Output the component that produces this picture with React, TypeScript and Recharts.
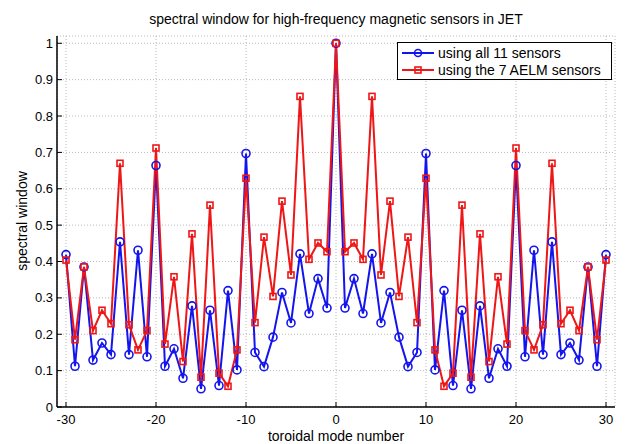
import { LineChart, Line, XAxis, YAxis, CartesianGrid, Legend } from 'recharts';

const modes = [
  -30, -29, -28, -27, -26, -25, -24, -23, -22, -21, -20, -19, -18, -17, -16, -15,
  -14, -13, -12, -11, -10, -9, -8, -7, -6, -5, -4, -3, -2, -1, 0,
  1, 2, 3, 4, 5, 6, 7, 8, 9, 10, 11, 12, 13, 14, 15,
  16, 17, 18, 19, 20, 21, 22, 23, 24, 25, 26, 27, 28, 29, 30,
];

const allSensors = [
  0.419, 0.112, 0.385, 0.129, 0.176, 0.144, 0.454, 0.144, 0.431, 0.138, 0.664, 0.112, 0.16, 0.079, 0.278, 0.05,
  0.266, 0.059, 0.32, 0.102, 0.697, 0.15, 0.111, 0.192, 0.315, 0.231, 0.421, 0.257, 0.353, 0.272, 1.0,
  0.272, 0.353, 0.257, 0.421, 0.231, 0.315, 0.192, 0.111, 0.15, 0.697, 0.102, 0.32, 0.059, 0.266, 0.05,
  0.278, 0.079, 0.16, 0.112, 0.664, 0.138, 0.431, 0.144, 0.454, 0.144, 0.176, 0.129, 0.385, 0.112, 0.419,
];

const aelmSensors = [
  0.404, 0.185, 0.385, 0.21, 0.266, 0.229, 0.67, 0.226, 0.157, 0.21, 0.712, 0.173, 0.358, 0.125, 0.476, 0.082,
  0.555, 0.093, 0.057, 0.157, 0.629, 0.232, 0.467, 0.304, 0.566, 0.363, 0.854, 0.406, 0.451, 0.427, 1.0,
  0.427, 0.451, 0.406, 0.854, 0.363, 0.566, 0.304, 0.467, 0.232, 0.629, 0.157, 0.057, 0.093, 0.555, 0.082,
  0.476, 0.125, 0.358, 0.173, 0.712, 0.21, 0.157, 0.226, 0.67, 0.229, 0.266, 0.21, 0.385, 0.185, 0.404,
];

const xTicks = [-30, -20, -10, 0, 10, 20, 30];
const yTicks = [0, 0.1, 0.2, 0.3, 0.4, 0.5, 0.6, 0.7, 0.8, 0.9, 1];

const BLUE = '#1414ee';
const RED = '#ee1616';
const FONT = '"Liberation Sans", Arial, sans-serif';

const data = modes.map((m, i) => ({ mode: m, all: allSensors[i], aelm: aelmSensors[i] }));

const CircleDot = (p: any) => (
  <circle key={`c-${p.index}`} cx={p.cx} cy={p.cy} r={4} fill="none" stroke={BLUE} strokeWidth={1.6} />
);

const SquareDot = (p: any) => (
  <rect key={`s-${p.index}`} x={p.cx - 3} y={p.cy - 3} width={6} height={6} fill="none" stroke={RED} strokeWidth={1.6} />
);

function LegendBox() {
  const rows = [
    { label: 'using all 11 sensors', color: BLUE, square: false },
    { label: 'using the 7 AELM sensors', color: RED, square: true },
  ];
  return (
    <div
      style={{
        border: '1px solid #000',
        background: '#fff',
        padding: '1px 3px',
        fontFamily: FONT,
        fontSize: 14,
        lineHeight: '16px',
        color: '#000',
      }}
    >
      {rows.map((r) => (
        <div key={r.label} style={{ display: 'flex', alignItems: 'center', height: 17 }}>
          <svg width={34} height={12} style={{ marginRight: 3 }}>
            <line x1={1} y1={6} x2={33} y2={6} stroke={r.color} strokeWidth={2} />
            {r.square ? (
              <rect x={14} y={3} width={6} height={6} fill="none" stroke={r.color} strokeWidth={1.6} />
            ) : (
              <circle cx={17} cy={6} r={3.5} fill="none" stroke={r.color} strokeWidth={1.6} />
            )}
          </svg>
          <span>{r.label}</span>
        </div>
      ))}
    </div>
  );
}

export default function App() {
  const tickStyle = { fontSize: 13, fill: '#000', fontFamily: FONT };
  return (
    <div style={{ position: 'absolute', left: 0, top: 0, width: 627, height: 444, background: '#fff' }}>
      <div
        style={{
          position: 'absolute', left: 57, top: 11, width: 558, textAlign: 'center',
          fontFamily: FONT, fontSize: 14, lineHeight: '16px',
        }}
      >
        spectral window for high-frequency magnetic sensors in JET
      </div>
      <LineChart width={627} height={444} data={data} margin={{ top: 36, right: 12, bottom: 17, left: 12 }}>
        <CartesianGrid stroke="#b8b8b8" strokeDasharray="1 2" />
        <XAxis
          dataKey="mode"
          type="number"
          domain={[-31, 31]}
          ticks={xTicks}
          interval={0}
          allowDataOverflow
          height={20}
          tickSize={-5}
          tickMargin={13}
          tick={tickStyle}
          axisLine={{ stroke: '#000', strokeWidth: 1.5 }}
          tickLine={{ stroke: '#000' }}
        />
        <XAxis
          xAxisId="top"
          orientation="top"
          type="number"
          domain={[-31, 31]}
          ticks={xTicks}
          allowDataOverflow
          height={0}
          tickSize={-5}
          tick={false}
          axisLine={{ stroke: '#000', strokeWidth: 1.5 }}
          tickLine={{ stroke: '#000' }}
        />
        <YAxis
          type="number"
          domain={[0, 1.02]}
          ticks={yTicks}
          interval={0}
          allowDataOverflow
          width={45}
          tickSize={-5}
          tickMargin={9}
          tick={tickStyle}
          tickFormatter={(v: number) => String(+v.toFixed(1))}
          axisLine={{ stroke: '#000', strokeWidth: 1.5 }}
          tickLine={{ stroke: '#000' }}
        />
        <YAxis
          yAxisId="right"
          orientation="right"
          type="number"
          domain={[0, 1.02]}
          ticks={yTicks}
          allowDataOverflow
          width={0}
          tickSize={-5}
          tick={false}
          axisLine={{ stroke: '#000', strokeWidth: 1.5 }}
          tickLine={{ stroke: '#000' }}
        />
        <Legend
          layout="vertical"
          align="center"
          verticalAlign="middle"
          content={() => <LegendBox />}
          wrapperStyle={{ left: 397, top: 42, width: 215, height: 37 }}
        />
        <Line
          dataKey="all"
          stroke={BLUE}
          strokeWidth={2}
          dot={CircleDot}
          activeDot={false}
          isAnimationActive={false}
        />
        <Line
          dataKey="aelm"
          stroke={RED}
          strokeWidth={2}
          dot={SquareDot}
          activeDot={false}
          isAnimationActive={false}
        />
      </LineChart>
      <div
        style={{
          position: 'absolute', left: 57, top: 428, width: 558, textAlign: 'center',
          fontFamily: FONT, fontSize: 14, lineHeight: '16px',
        }}
      >
        toroidal mode number
      </div>
      <div
        style={{
          position: 'absolute', left: -78, top: 213, width: 200, height: 16, textAlign: 'center',
          fontFamily: FONT, fontSize: 14, lineHeight: '16px', transform: 'rotate(-90deg)',
        }}
      >
        spectral window
      </div>
    </div>
  );
}
